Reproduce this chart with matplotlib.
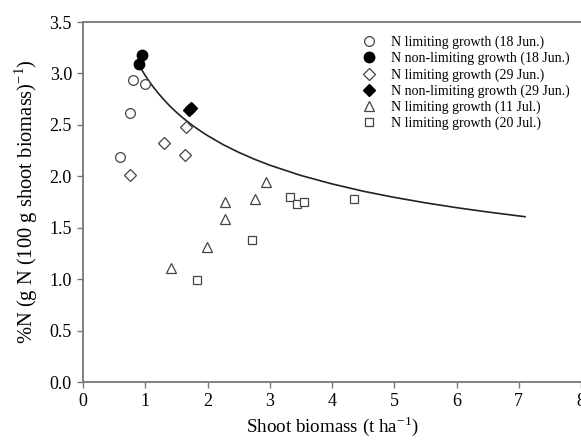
import numpy as np
import matplotlib.pyplot as plt

plt.rcParams['font.family'] = ['Liberation Serif', 'DejaVu Serif']
plt.rcParams['mathtext.fontset'] = 'custom'
plt.rcParams['mathtext.rm'] = 'Liberation Serif'

# N limiting growth (18 Jun.)
lim_18jun_x = [0.59, 0.75, 0.81, 1.00]
lim_18jun_y = [2.19, 2.62, 2.94, 2.90]
# N non-limiting growth (18 Jun.)
non_18jun_x = [0.90, 0.94]
non_18jun_y = [3.09, 3.18]
# N limiting growth (29 Jun.)
lim_29jun_x = [0.75, 1.30, 1.64, 1.65]
lim_29jun_y = [2.01, 2.32, 2.21, 2.48]
# N non-limiting growth (29 Jun.)
non_29jun_x = [1.71, 1.73]
non_29jun_y = [2.64, 2.66]
# N limiting growth (11 Jul.)
lim_11jul_x = [1.41, 1.99, 2.28, 2.28, 2.76, 2.94]
lim_11jul_y = [1.11, 1.31, 1.58, 1.75, 1.78, 1.94]
# N limiting growth (20 Jul.)
lim_20jul_x = [1.83, 2.72, 3.32, 3.43, 3.55, 4.35]
lim_20jul_y = [0.99, 1.38, 1.80, 1.73, 1.75, 1.78]

# critical N dilution curve
curve_x = [0.93, 0.96, 1.0, 1.05, 1.1, 1.15, 1.2, 1.3, 1.4, 1.5, 1.6, 1.75,
           1.9, 2.0, 2.25, 2.5, 2.75, 3.0, 3.5, 4.0, 4.5, 5.0, 5.5, 6.0,
           6.5, 7.1]
curve_y = [3.049, 3.019, 2.980, 2.935, 2.892, 2.852, 2.814, 2.744, 2.680,
           2.623, 2.570, 2.498, 2.435, 2.396, 2.308, 2.233, 2.167, 2.108,
           2.008, 1.926, 1.855, 1.795, 1.742, 1.695, 1.653, 1.607]

fig = plt.figure(figsize=(5.81, 4.4), dpi=100)
ax = fig.add_axes([83/581, 58/440, 1 - 83/581, (382-22)/440])

ax.plot(curve_x, curve_y, color='#222222', lw=1.2, zorder=1)

ec = '#444444'
ax.plot(lim_18jun_x, lim_18jun_y, 'o', ms=7, mfc='white', mec=ec, mew=0.9,
        ls='none', label='N limiting growth (18 Jun.)')
ax.plot(non_18jun_x, non_18jun_y, 'o', ms=7.5, mfc='black', mec='black',
        ls='none', label='N non-limiting growth (18 Jun.)')
ax.plot(lim_29jun_x, lim_29jun_y, 'D', ms=6, mfc='white', mec=ec, mew=0.9,
        ls='none', label='N limiting growth (29 Jun.)')
ax.plot(non_29jun_x, non_29jun_y, 'D', ms=6.5, mfc='black', mec='black',
        ls='none', label='N non-limiting growth (29 Jun.)')
ax.plot(lim_11jul_x, lim_11jul_y, '^', ms=7, mfc='white', mec=ec, mew=0.9,
        ls='none', label='N limiting growth (11 Jul.)')
ax.plot(lim_20jul_x, lim_20jul_y, 's', ms=6, mfc='white', mec=ec, mew=0.9,
        ls='none', label='N limiting growth (20 Jul.)')

ax.set_xlim(0, 8)
ax.set_ylim(0, 3.5)
ax.set_xticks(np.arange(0, 9, 1))
ax.set_yticks(np.arange(0, 3.6, 0.5))
ax.set_yticklabels(['%.1f' % v for v in np.arange(0, 3.6, 0.5)])

for side in ['left', 'bottom', 'top']:
    ax.spines[side].set_color('#777777')
    ax.spines[side].set_linewidth(1.3)
ax.spines['right'].set_visible(False)
ax.tick_params(direction='out', length=4, width=1, color='#777777',
               labelsize=13, pad=4)

ax.set_xlabel('Shoot biomass (t ha$^{-1}$)', fontsize=13.7, labelpad=3)
ax.set_ylabel('%N (g N (100 g shoot biomass)$^{-1}$)', fontsize=14.8,
              labelpad=7)

ax.legend(loc='upper left', bbox_to_anchor=(352/581, 1 - 30/440),
          bbox_transform=fig.transFigure, frameon=False, fontsize=10,
          handletextpad=0.8, labelspacing=0.2, borderaxespad=0,
          handlelength=1.6)

fig.savefig('out.png', dpi=100)
